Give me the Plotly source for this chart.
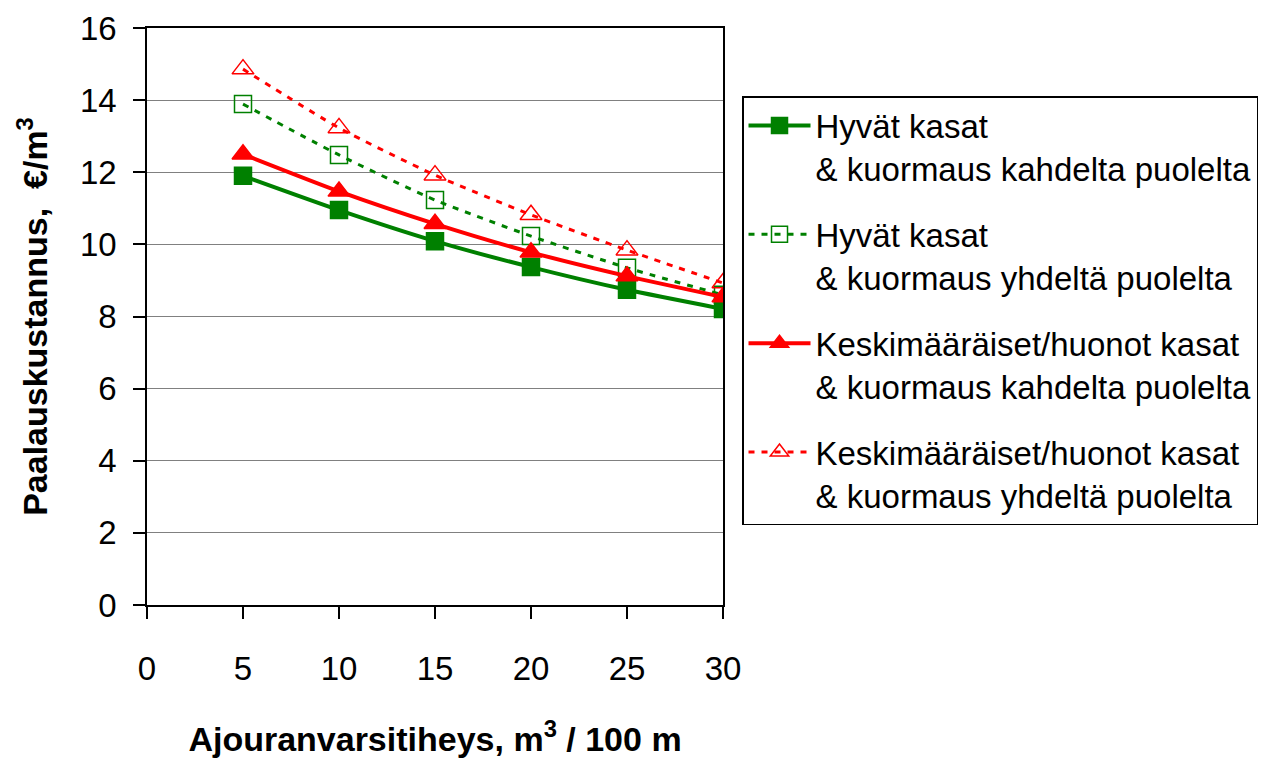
import plotly.graph_objects as go

x_vals = [5, 10, 15, 20, 25, 30]
hyvat_kahdelta = [11.90, 10.95, 10.09, 9.37, 8.74, 8.21]
hyvat_yhdelta = [13.89, 12.48, 11.23, 10.23, 9.35, 8.60]
keski_kahdelta = [12.50, 11.47, 10.57, 9.78, 9.12, 8.54]
keski_yhdelta = [14.86, 13.23, 11.92, 10.82, 9.84, 8.93]

names = [
    "Hyvät kasat<br>& kuormaus kahdelta puolelta",
    "Hyvät kasat<br>& kuormaus yhdeltä puolelta",
    "Keskimääräiset/huonot kasat<br>& kuormaus kahdelta puolelta",
    "Keskimääräiset/huonot kasat<br>& kuormaus yhdeltä puolelta",
]
y_ticks = [0, 2, 4, 6, 8, 10, 12, 14, 16]
x_ticks = [0, 5, 10, 15, 20, 25, 30]

GREEN = "#008000"
RED = "#FF0000"
FONT = "Liberation Sans, Arial, sans-serif"

fig = go.Figure()
series = [
    (hyvat_kahdelta, names[0], GREEN, "solid", 4, "square", 17, GREEN),
    (hyvat_yhdelta, names[1], GREEN, "6px,7px", 3, "square-open", 17, GREEN),
    (keski_kahdelta, names[2], RED, "solid", 4, "triangle-up", 19, RED),
    (keski_yhdelta, names[3], RED, "6px,7px", 3, "triangle-up-open", 19, RED),
]
for i, (yv, nm, col, dash, lw, sym, ms, mc) in enumerate(series):
    fig.add_trace(go.Scatter(
        x=x_vals, y=yv, name=nm, mode="lines+markers",
        line=dict(color=col, width=lw, dash=dash, shape="spline", smoothing=0.6),
        marker=dict(symbol=sym, size=ms, color=mc, line=dict(color=mc, width=1.5)),
        legendgroup=f"g{i}",
    ))

fig.update_layout(
    width=1266, height=758,
    margin=dict(l=147, r=543, t=28, b=153, autoexpand=False),
    paper_bgcolor="white", plot_bgcolor="white",
    font=dict(family=FONT, size=33, color="black"),
    showlegend=True,
    legend=dict(
        x=1.033, y=0.882, xanchor="left", yanchor="top",
        bordercolor="black", borderwidth=1.5,
        font=dict(family=FONT, size=33, color="black"),
        itemwidth=62, tracegroupgap=20, traceorder="grouped",
        valign="top", bgcolor="white",
    ),
    xaxis=dict(
        range=[0, 30], tickvals=x_ticks, ticks="outside", ticklen=12,
        tickcolor="black", tickwidth=1.5, automargin=False,
        showline=True, linecolor="black", linewidth=1.5, mirror=True,
        showgrid=False, zeroline=False,
        tickfont=dict(family=FONT, size=33),
        ticklabelstandoff=22,
        title=dict(text="<b>Ajouranvarsitiheys, m<sup>3</sup> / 100 m</b>",
                   font=dict(family=FONT, size=34), standoff=42),
    ),
    yaxis=dict(
        range=[0, 16], tickvals=y_ticks, ticks="outside", ticklen=12,
        tickcolor="black", tickwidth=1.5, automargin=False,
        showline=True, linecolor="black", linewidth=1.5, mirror=True,
        showgrid=True, gridcolor="#808080", gridwidth=1,
        zeroline=False,
        tickfont=dict(family=FONT, size=33),
        ticklabelstandoff=10,
        title=dict(text="<b>Paalauskustannus,  €/m<sup>3</sup></b>",
                   font=dict(family=FONT, size=34), standoff=22),
    ),
)

fig.write_html("out.html")
